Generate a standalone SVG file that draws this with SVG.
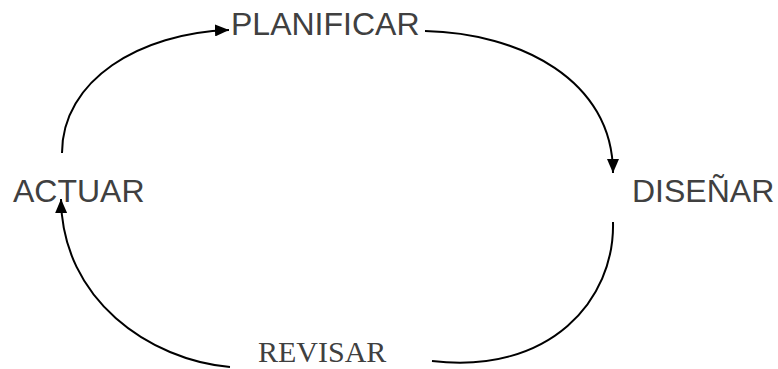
<svg xmlns="http://www.w3.org/2000/svg" width="778" height="369" viewBox="0 0 778 369">
<defs>
<marker id="ah" viewBox="0 0 14 12" refX="14" refY="6" markerWidth="14" markerHeight="12" markerUnits="userSpaceOnUse" orient="auto">
<path d="M0,0 L14,6 L0,12 Z" fill="#000"/>
</marker>
<style>
.lbl{font-family:"Liberation Sans",Arial,sans-serif;font-size:32px;fill:#404040}
.ser{font-family:"Liberation Serif","Times New Roman",serif;font-size:30px;fill:#404040}
.c{fill:none;stroke:#000;stroke-width:2}
</style>
</defs>
<rect width="778" height="369" fill="#fff"/>
<g id="connectors">
<path class="c" d="M62,153 C62,80 140,33 229,30" marker-end="url(#ah)"/>
<path class="c" d="M425,31 C520,33 613,80 613,173" marker-end="url(#ah)"/>
<path class="c" d="M230,367 C150,360 62,300 61,199" marker-end="url(#ah)"/>
<path class="c" d="M613,222 C615,300 550,375 432,361"/>
</g>
<g id="planificar"><text class="lbl" x="231" y="35">PLANIFICAR</text></g>
<g id="disenar"><text class="lbl" x="632" y="202">DISEÑAR</text></g>
<g id="actuar"><text class="lbl" x="13" y="202">ACTUAR</text></g>
<g id="revisar"><text class="ser" x="258" y="362">REVISAR</text></g>
</svg>
